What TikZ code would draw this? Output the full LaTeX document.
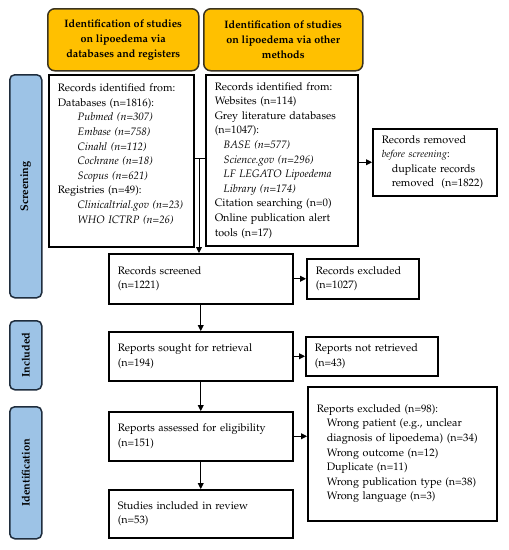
\documentclass[tikz,border=0pt]{standalone}
\usepackage[T1]{fontenc}
\usepackage{mathpazo}
\usetikzlibrary{arrows.meta,calc}
\definecolor{hdryellow}{HTML}{FFC000}
\definecolor{sideblue}{HTML}{9DC3E6}
\definecolor{sideline}{HTML}{1F2D3D}
\definecolor{hdrline}{HTML}{3A3320}
\tikzset{
  txt/.style={font=\fontsize{10.8}{14.6}\selectfont},
  hdr/.style={draw=hdrline, fill=hdryellow, line width=1.5pt, rounded corners=7pt, anchor=north west,
    align=center, inner sep=0pt, font=\fontsize{10.8}{14.8}\selectfont\bfseries},
  side/.style={draw=sideline, fill=sideblue, line width=1.5pt, rounded corners=5pt, anchor=north west, inner sep=0pt},
  sidetxt/.style={rotate=90, font=\fontsize{11}{12}\selectfont\bfseries},
  box/.style={draw, line width=1.5pt, anchor=north west, align=left, inner xsep=9pt, inner ysep=0pt, txt},
  arr/.style={-{Triangle[length=6pt,width=6pt]}, line width=0.9pt},
  ln/.style={line width=0.9pt}
}
\begin{document}
\begin{tikzpicture}[x=1pt,y=-1pt]
\useasboundingbox (0,0) rectangle (509,550);
% headers
\node[hdr, minimum width=151pt, minimum height=62pt] (h1) at (47,8)
  {Identification of studies\\on lipoedema via\\databases and registers};
\node[hdr, minimum width=159pt, minimum height=62pt] (h2) at (203,8)
  {Identification of studies\\on lipoedema via other\\methods};
% side bars
\node[side, minimum width=32pt, minimum height=223pt] (s1) at (9,74) {};
\node[sidetxt] (s1t) at (s1.center) {Screening};
\node[side, minimum width=32pt, minimum height=69pt] (s2) at (9,320) {};
\node[sidetxt] (s2t) at (s2.center) {Included};
\node[side, minimum width=32pt, minimum height=132pt] (s3) at (9,406) {};
\node[sidetxt] (s3t) at (s3.center) {Identification};
% boxes
\node[box, text width=127pt, minimum height=172pt] (db) at (48,74)
  {Records identified from:\\
   Databases (n=1816):\\
   \hspace*{20pt}\textit{Pubmed (n=307)}\\
   \hspace*{20pt}\textit{Embase (n=758)}\\
   \hspace*{20pt}\textit{Cinahl (n=112)}\\
   \hspace*{20pt}\textit{Cochrane (n=18)}\\
   \hspace*{20pt}\textit{Scopus (n=621)}\\
   Registries (n=49):\\
   \hspace*{20pt}\textit{Clinicaltrial.gov (n=23)}\\
   \hspace*{20pt}\textit{WHO ICTRP (n=26)}\\
   \mbox{}};
\node[box, text width=134pt, minimum height=171pt] (oth) at (205,74)
  {Records identified from:\\
   Websites (n=114)\\
   Grey literature databases\\
   (n=1047):\\
   \hspace*{9pt}\textit{BASE (n=577)}\\
   \hspace*{9pt}\textit{Science.gov (n=296)}\\
   \hspace*{9pt}\textit{LF LEGATO Lipoedema}\\
   \hspace*{9pt}\textit{Library (n=174)}\\
   Citation searching (n=0)\\
   Online publication alert\\
   tools (n=17)};
\node[box, text width=106pt, minimum height=67pt] (rem) at (372,128)
  {Records removed\\
   \textit{\fontsize{10}{14.6}\selectfont before screening}:\\
   \hspace*{10pt}duplicate records\\
   \hspace*{10pt}removed~ (n=1822)};
\node[box, text width=166pt, minimum height=50pt] (scr) at (108,253)
  {Records screened\\(n=1221)};
\node[box, text width=94pt, minimum height=40pt] (exc) at (306,258)
  {Records excluded\\(n=1027)};
\node[box, text width=166pt, minimum height=49pt] (sought) at (108,331)
  {Reports sought for retrieval\\(n=194)};
\node[box, text width=114pt, minimum height=39pt] (notret) at (305,336)
  {Reports not retrieved\\(n=43)};
\node[box, text width=166pt, minimum height=49pt] (assess) at (108,411)
  {Reports assessed for eligibility\\(n=151)};
\node[box, text width=171pt, minimum height=134pt] (rexc) at (307,386)
  {Reports excluded (n=98):\\
   \hspace*{10pt}Wrong patient (e.g., unclear\\
   \hspace*{10pt}diagnosis of lipoedema) (n=34)\\
   \hspace*{10pt}Wrong outcome (n=12)\\
   \hspace*{10pt}Duplicate (n=11)\\
   \hspace*{10pt}Wrong publication type (n=38)\\
   \hspace*{10pt}Wrong language (n=3)};
\node[box, text width=166pt, minimum height=48pt] (incl) at (108,489)
  {Studies included in review\\(n=53)};
% connectors
\coordinate (m) at (199,158);
\draw[ln] (db.east |- m) -- (oth.west |- m);
\draw[arr] (m) -- (m |- scr.north);
\draw[arr] (oth.east |- rem.west) -- (rem.west);
\draw[arr] (scr.east) -- (scr.east -| exc.west);
\draw[arr] (sought.east) -- (sought.east -| notret.west);
\draw[arr] (assess.east) -- (assess.east -| rexc.west);
\draw[arr] (scr.south) -- (sought.north);
\draw[arr] (sought.south) -- (assess.north);
\draw[arr] (assess.south) -- (incl.north);
\end{tikzpicture}
\end{document}
